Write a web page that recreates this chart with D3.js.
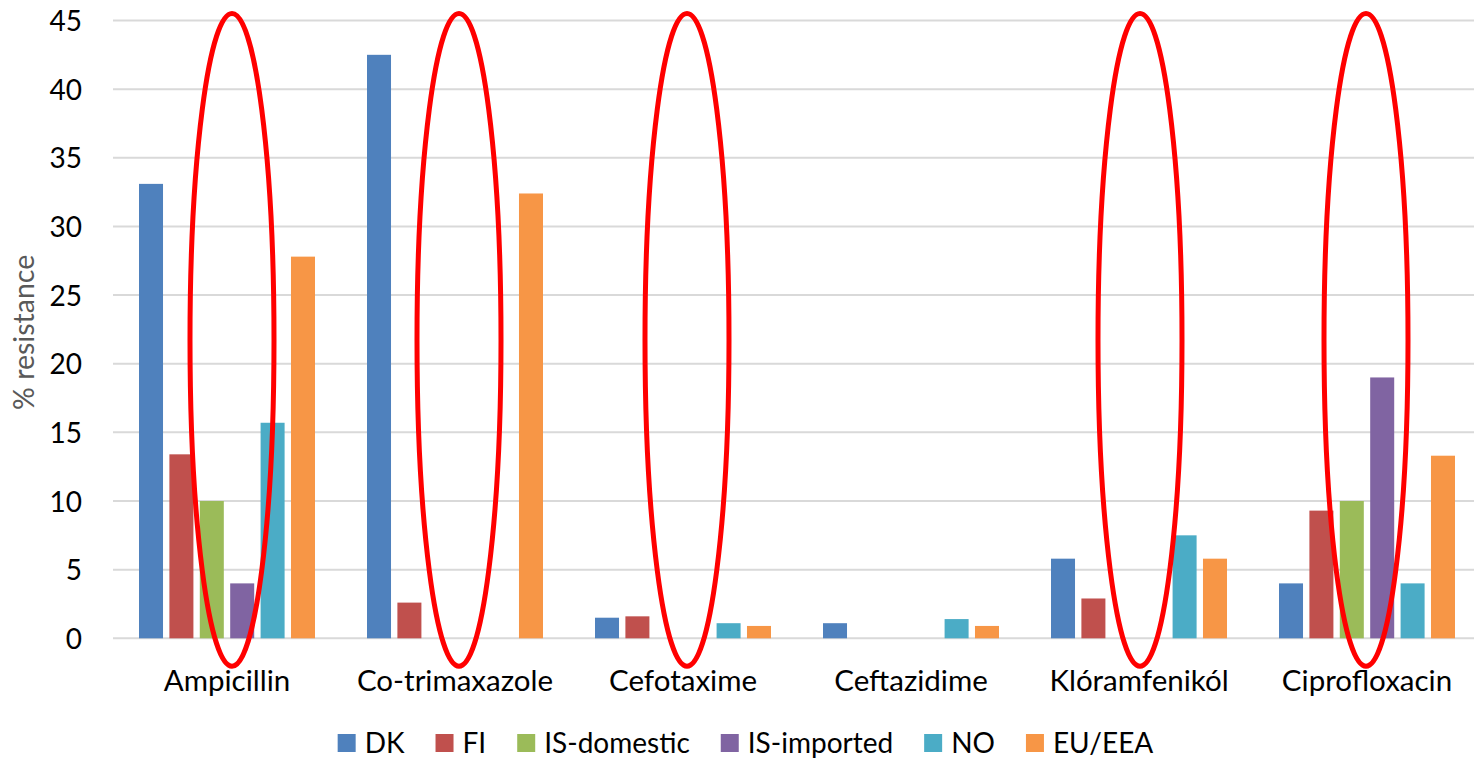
<!DOCTYPE html>
<html>
<head>
<meta charset="utf-8">
<script src="https://cdn.jsdelivr.net/npm/d3@7"></script>
<style>
  html, body { margin: 0; padding: 0; background: #fff; }
  svg { display: block; font-family: Lato, "Open Sans", sans-serif; }
</style>
</head>
<body>
<svg id="chart" width="1474" height="760"></svg>
<script>
// Antibiotics shown along the x axis
const categories = ["Ampicillin", "Co-trimaxazole", "Cefotaxime", "Ceftazidime", "Klóramfenikól", "Ciprofloxacin"];

// Countries / groups (one bar each per antibiotic)
const series = ["DK", "FI", "IS-domestic", "IS-imported", "NO", "EU/EEA"];
const seriesColors = ["#4F81BD", "#C0504D", "#9BBB59", "#8064A2", "#4BACC6", "#F79646"];

// % resistance, one array per group, in the order of `categories` (null = no bar)
const dkValues         = [33.1, 42.5, 1.5, 1.1, 5.8, 4.0];
const fiValues         = [13.4, 2.6, 1.6, null, 2.9, 9.3];
const isDomesticValues = [10.0, null, null, null, null, 10.0];
const isImportedValues = [4.0, null, null, null, null, 19.0];
const noValues         = [15.7, null, 1.1, 1.4, 7.5, 4.0];
const euEeaValues      = [27.8, 32.4, 0.9, 0.9, 5.8, 13.3];

const yTicks = [0, 5, 10, 15, 20, 25, 30, 35, 40, 45];

// Antibiotics circled in red (hand-placed rings, slight horizontal nudge each)
const circled = ["Ampicillin", "Co-trimaxazole", "Cefotaxime", "Klóramfenikól", "Ciprofloxacin"];
const circleNudge = [5, 4, 4, 1, -1];

const valuesBySeries = [dkValues, fiValues, isDomesticValues, isImportedValues, noValues, euEeaValues];

const svg = d3.select("#chart");
svg.append("rect").attr("width", 1474).attr("height", 760).attr("fill", "#fff");

const plotLeft = 113, plotTop = 20.5, plotBottom = 638.3;
const bandStep = 228;

const x = d3.scaleBand()
  .domain(categories)
  .range([plotLeft, plotLeft + bandStep * categories.length])
  .paddingInner(0).paddingOuter(0);

const xInner = d3.scaleBand()
  .domain(series)
  .range([26, bandStep - 26])
  .paddingInner(0.21).paddingOuter(0);

const y = d3.scaleLinear().domain([0, 45]).range([plotBottom, plotTop]);

// Horizontal gridlines
svg.append("g")
  .selectAll("line")
  .data(yTicks)
  .join("line")
  .attr("x1", plotLeft).attr("x2", 1474)
  .attr("y1", d => y(d)).attr("y2", d => y(d))
  .attr("stroke", "#d9d9d9").attr("stroke-width", 2);

// Y axis tick labels
const yAxis = d3.axisLeft(y).tickValues(yTicks).tickSize(0).tickPadding(0);
const yAxisG = svg.append("g").attr("transform", "translate(82,0)").call(yAxis);
yAxisG.select(".domain").remove();
yAxisG.selectAll("text")
  .attr("font-size", 28).attr("fill", "#000")
  .attr("font-family", "Lato, 'Open Sans', sans-serif")
  .attr("dy", "0.36em");

// Y axis title
svg.append("text")
  .attr("transform", `translate(34,${(plotTop + plotBottom) / 2 + 3}) rotate(-90)`)
  .attr("text-anchor", "middle")
  .attr("font-size", 28.5).attr("fill", "#595959")
  .text("% resistance");

// Bars
const flat = [];
categories.forEach((c, ci) => {
  series.forEach((s, si) => {
    const v = valuesBySeries[si][ci];
    if (v != null) flat.push({ category: c, series: s, color: seriesColors[si], value: v });
  });
});

svg.append("g")
  .selectAll("rect")
  .data(flat)
  .join("rect")
  .attr("x", d => x(d.category) + xInner(d.series))
  .attr("width", xInner.bandwidth())
  .attr("y", d => y(d.value))
  .attr("height", d => y(0) - y(d.value))
  .attr("fill", d => d.color);

// X axis category labels
const xAxis = d3.axisBottom(x).tickSize(0).tickPadding(0);
const xAxisG = svg.append("g").attr("transform", "translate(0,691)").call(xAxis);
xAxisG.select(".domain").remove();
xAxisG.selectAll("text")
  .attr("font-size", 29.5).attr("fill", "#000")
  .attr("font-family", "Lato, 'Open Sans', sans-serif")
  .attr("dy", 0);

// Red ellipses
svg.append("g")
  .selectAll("ellipse")
  .data(circled)
  .join("ellipse")
  .attr("cx", (d, i) => x(d) + x.bandwidth() / 2 + circleNudge[i])
  .attr("cy", (y(45) - 7 + y(0) + 28) / 2)
  .attr("rx", 42)
  .attr("ry", (y(0) + 28 - (y(45) - 7)) / 2)
  .attr("fill", "none")
  .attr("stroke", "#FF0000")
  .attr("stroke-width", 5);

// Legend
const legend = svg.append("g");
const items = legend.selectAll("g").data(series).join("g");
items.append("rect").attr("width", 18).attr("height", 18).attr("y", -19)
  .attr("fill", (d, i) => seriesColors[i]);
items.append("text").attr("x", 27).attr("font-size", 28).attr("fill", "#000").text(d => d);
let cursor = 0;
items.each(function () {
  const g = d3.select(this);
  g.attr("transform", `translate(${cursor},0)`);
  cursor += 27 + g.select("text").node().getComputedTextLength() + 31;
});
const legendWidth = cursor - 31;
legend.attr("transform", `translate(${745.5 - legendWidth / 2},753)`);
</script>
</body>
</html>
